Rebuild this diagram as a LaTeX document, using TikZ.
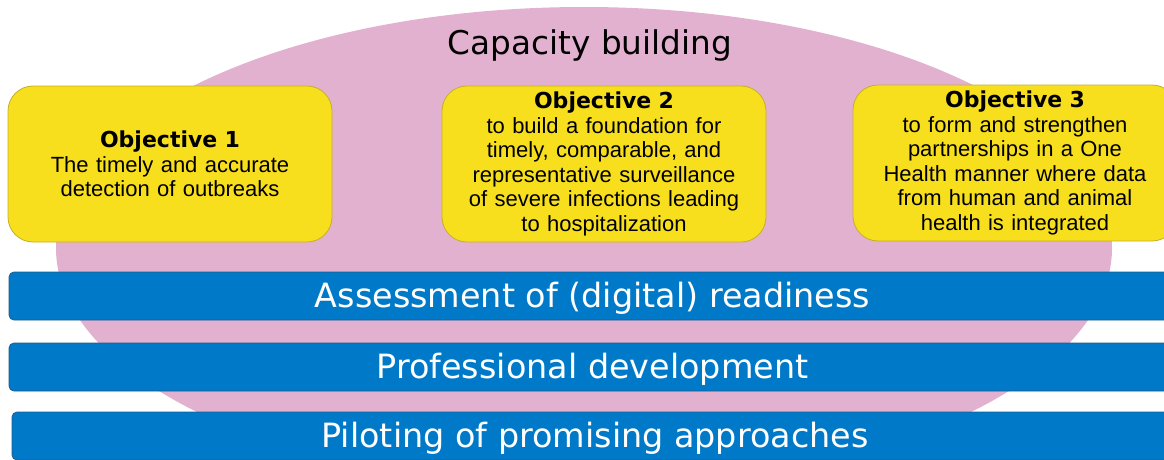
\documentclass[tikz,border=0pt]{standalone}
\usepackage{fontspec}
\setmainfont{Liberation Sans}
\newfontfamily\dejavu{DejaVu Sans}
\usetikzlibrary{shapes.geometric}
\definecolor{pinkbg}{RGB}{227,177,208}
\definecolor{objyellow}{RGB}{247,223,30}
\definecolor{objborder}{RGB}{196,176,40}
\definecolor{barblue}{RGB}{0,122,200}
\definecolor{barborder}{RGB}{30,90,140}
\newcommand{\objhead}[1]{{\dejavu\bfseries\fontsize{22}{24.5}\selectfont #1}}
\tikzset{
  objbox/.style={draw=objborder, fill=objyellow, line width=0.8pt, rounded corners=25pt,
    minimum width=324pt, minimum height=156pt, text width=314pt, align=center,
    inner sep=0pt, font=\fontsize{22}{24.5}\selectfont},
  barbox/.style={draw=barborder, fill=barblue, line width=0.8pt, rounded corners=5pt,
    minimum height=48pt, inner sep=0pt, text=white,
    font=\dejavu\fontsize{33.4}{36}\selectfont, text height=23pt, text depth=0pt},
  captitle/.style={font=\dejavu\fontsize{32.7}{36}\selectfont, anchor=base, inner sep=0pt}
}
\begin{document}
\begin{tikzpicture}[x=1pt,y=-1pt]
\useasboundingbox (0,0) rectangle (1164,460);
\begin{scope}
  \clip (0,0) rectangle (1164,460);
  \node[ellipse, fill=pinkbg, minimum width=1056pt, minimum height=482pt, inner sep=0pt] (cap) at (584,248) {};
\end{scope}
\node[captitle] (capt) at (590,55) {Capacity building};
\node[objbox] (obj1) at (170,164) {\objhead{Objective 1}\\The timely and accurate\\detection of outbreaks};
\node[objbox] (obj2) at (604,164) {\objhead{Objective 2}\\to build a foundation for\\timely, comparable, and\\representative surveillance\\of severe infections leading\\to hospitalization};
\node[objbox] (obj3) at (1015,163) {\objhead{Objective 3}\\to form and strengthen\\partnerships in a One\\Health manner where data\\from human and animal\\health is integrated};
\node[barbox, minimum width=1167pt] (bar1) at (592.5,296) {Assessment of (digital) readiness};
\node[barbox, minimum width=1167pt] (bar2) at (592.5,367) {Professional development};
\node[barbox, minimum width=1166pt] (bar3) at (595,436) {Piloting of promising approaches};
\end{tikzpicture}
\end{document}
